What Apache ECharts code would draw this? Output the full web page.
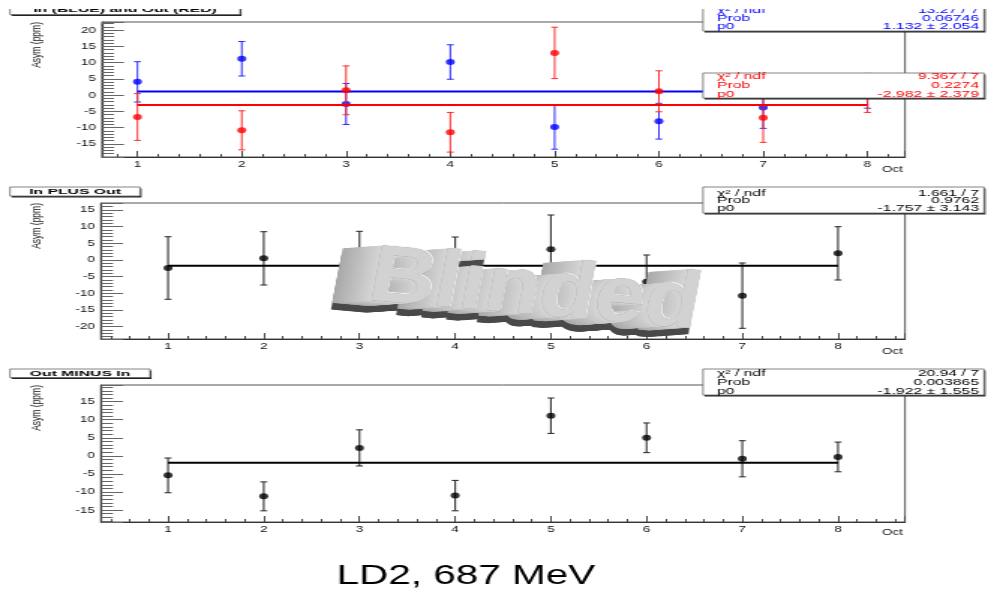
<!DOCTYPE html>
<html>
<head>
<meta charset="utf-8">
<title>LD2, 687 MeV</title>
<script src="https://cdn.jsdelivr.net/npm/echarts@6/dist/echarts.min.js"></script>
<style>
  html, body { margin: 0; padding: 0; background: #fff; overflow: hidden; }
  #wrap { width: 994px; height: 592px; overflow: hidden; position: relative; }
  /* the plot is laid out on a narrower canvas and widened horizontally */
  #chart { width: 663px; height: 592px; transform: scaleX(1.49925); transform-origin: 0 0; }
</style>
</head>
<body>
<div id="wrap"><div id="chart"></div></div>
<script>
// ---- data -------------------------------------------------------------
const days = [1, 2, 3, 4, 5, 6, 7, 8];

// In (blue) and Out (red) asymmetries, ppm
const inVals  = [4.1, 11.2, -2.7, 10.2, -9.8, -8.0, -3.8, 1.3];
const inErrs  = [6.2, 5.3, 6.3, 5.3, 6.8, 5.5, 6.4, 5.3];
const outVals = [-6.7, -10.8, 1.5, -11.4, 13.0, 1.2, -6.9, 0.7];
const outErrs = [7.2, 6.0, 7.5, 6.1, 7.9, 6.3, 7.6, 6.0];

// In PLUS Out
const sumVals = [-2.4, 0.5, -1.2, -1.2, 3.2, -6.5, -10.7, 2.0];
const sumErrs = [9.4, 8.0, 9.8, 8.1, 10.3, 8.0, 9.8, 8.0];

// Out MINUS In
const diffVals = [-5.4, -11.2, 2.2, -11.0, 11.1, 5.0, -0.8, -0.3];
const diffErrs = [4.8, 4.0, 5.0, 4.2, 4.9, 4.1, 5.0, 4.1];

// constant (pol0) fits: In, Out, In PLUS Out, Out MINUS In
const fitChi2  = ['13.27 / 7', '9.367 / 7', '1.661 / 7', '20.94 / 7'];
const fitProb  = ['0.06746', '0.2274', '0.9762', '0.003865'];
const fitP0    = [1.132, -2.982, -1.757, -1.922];
const fitP0Err = [2.054, 2.379, 3.143, 1.555];
const fitRange = [1, 8];

const panelTitles = ['In (BLUE) and Out (RED)', 'In PLUS Out', 'Out MINUS In'];
const yTitle = 'Asym (ppm)';
const xTitle = 'Oct';
const caption = 'LD2, 687 MeV';
const blindWord = 'Blinded';

// ---- layout -----------------------------------------------------------
const SX = 994 / 663;            // horizontal widening of the drawing
const X = v => v / SX;           // page x -> drawing x
const FONT = '"Liberation Sans", Arial, Helvetica, sans-serif';

const BLUE = '#0000ff', RED = '#ff0000', BLACK = '#000000';

// frames on the page: [left, top, right, bottom]
const frames  = [[102, 22, 905, 157], [101, 203, 905, 339], [101, 385, 905, 522]];
const xRanges = [[0.66, 8.36], [0.3, 8.7], [0.3, 8.7]];
const yRanges = [[-19, 22.5], [-23.7, 17.1], [-18.3, 19.6]];

const grids = frames.map(f => ({
  left: X(f[0]), top: f[1], width: X(f[2] - f[0]), height: f[3] - f[1],
  show: true, borderColor: '#555', borderWidth: 1, backgroundColor: 'transparent'
}));

const xAxes = xRanges.map((r, i) => ({
  type: 'value', gridIndex: i, min: r[0], max: r[1], splitNumber: 8,
  axisLine: { show: true, onZero: false, lineStyle: { color: '#333', width: 1.2 } },
  axisTick: { show: true, inside: true, length: 6, lineStyle: { color: '#444', width: 1 } },
  minorTick: { show: true, splitNumber: 5, length: 3, lineStyle: { color: '#444', width: 1 } },
  splitLine: { show: false },
  axisLabel: {
    margin: 3, fontSize: 9, fontFamily: FONT, color: '#111',
    formatter: v => (Math.abs(v - Math.round(v)) < 1e-9 ? String(Math.round(v)) : '')
  }
}));

const yAxes = yRanges.map((r, i) => ({
  type: 'value', gridIndex: i, min: r[0], max: r[1], splitNumber: 8,
  axisLine: { show: true, onZero: false, lineStyle: { color: '#333', width: 1.2 } },
  axisTick: { show: true, inside: true, length: X(22), lineStyle: { color: '#666', width: 1 } },
  minorTick: { show: true, splitNumber: 5, length: X(12), lineStyle: { color: '#666', width: 1 } },
  splitLine: { show: false },
  axisLabel: {
    margin: 4, fontSize: 9, fontFamily: FONT, color: '#111',
    formatter: v => (Math.abs(v % 5) < 1e-9 ? String(v) : '')
  }
}));

// ---- series builders --------------------------------------------------
function errorBars(gi, vals, errs, color, width, z) {
  return {
    type: 'custom', xAxisIndex: gi, yAxisIndex: gi, z, silent: true, clip: true,
    data: days.map((d, i) => [d, vals[i], errs[i]]),
    encode: { x: 0, y: 1 },
    renderItem: (params, api) => {
      const x = api.value(0), y = api.value(1), e = api.value(2);
      const hi = api.coord([x, y + e]);
      const lo = api.coord([x, y - e]);
      const c = 2.3;
      const style = { stroke: color, lineWidth: width, fill: null };
      return {
        type: 'group',
        children: [
          { type: 'line', shape: { x1: hi[0], y1: hi[1], x2: lo[0], y2: lo[1] }, style },
          { type: 'line', shape: { x1: hi[0] - c, y1: hi[1], x2: hi[0] + c, y2: hi[1] }, style },
          { type: 'line', shape: { x1: lo[0] - c, y1: lo[1], x2: lo[0] + c, y2: lo[1] }, style }
        ]
      };
    }
  };
}

function markers(gi, vals, color, z) {
  return {
    type: 'scatter', xAxisIndex: gi, yAxisIndex: gi, z, silent: true,
    symbol: 'circle', symbolSize: 6, itemStyle: { color },
    data: days.map((d, i) => [d, vals[i]])
  };
}

function fitLine(gi, k, color, z) {
  return {
    type: 'line', xAxisIndex: gi, yAxisIndex: gi, z, silent: true,
    showSymbol: false, symbol: 'none',
    lineStyle: { color, width: 2 },
    data: fitRange.map(x => [x, fitP0[k]])
  };
}

const series = [
  errorBars(0, inVals, inErrs, '#2b2bff', 1, 3),
  markers(0, inVals, BLUE, 4),
  fitLine(0, 0, BLUE, 5),
  errorBars(0, outVals, outErrs, '#ff2b2b', 1, 6),
  markers(0, outVals, RED, 7),
  fitLine(0, 1, RED, 8),

  errorBars(1, sumVals, sumErrs, '#333', 1.1, 3),
  markers(1, sumVals, BLACK, 4),
  fitLine(1, 2, BLACK, 5),

  errorBars(2, diffVals, diffErrs, '#333', 1.1, 3),
  markers(2, diffVals, BLACK, 4),
  fitLine(2, 3, BLACK, 5)
];

// ---- boxes and labels ---------------------------------------------------
function txt(x, y, text, font, fill, align, vAlign, extra) {
  return Object.assign({
    type: 'text', x, y, silent: true,
    style: {
      text, font, fill,
      align, verticalAlign: vAlign,
      textAlign: align, textVerticalAlign: vAlign
    }
  }, extra || {});
}

function paveBox(x0, y0, x1, y1, z) {
  return [
    { type: 'rect', z, silent: true,
      shape: { x: X(x0) + 1, y: y0 + 1.5, width: X(x1 - x0), height: y1 - y0 },
      style: { fill: '#222' } },
    { type: 'rect', z, silent: true,
      shape: { x: X(x0), y: y0, width: X(x1 - x0), height: y1 - y0 },
      style: { fill: '#fff', stroke: '#666', lineWidth: 0.8 } }
  ];
}

// stats boxes: page coordinates [x0, y0, x1, y1] and row centres
const statBoxes = [
  { k: 0, color: BLUE,  box: [703, 2, 984, 31],    rows: [10.8, 18.9, 26.8] },
  { k: 1, color: RED,   box: [703, 73, 984, 98],   rows: [77, 85.8, 94.5] },
  { k: 2, color: BLACK, box: [703, 187, 984, 213], rows: [193.3, 200.8, 208.3] },
  { k: 3, color: BLACK, box: [703, 369, 984, 395], rows: [374, 382.9, 391.7] }
];

const titleBoxes = [
  { box: [10, 2, 240, 14.5],   cy: 9.8 },
  { box: [10, 187, 140, 196],  cy: 191.7 },
  { box: [10, 369, 150, 377.5], cy: 373.5 }
];

const graphics = [];

statBoxes.forEach(sb => {
  const [x0, y0, x1, y1] = sb.box;
  graphics.push(...paveBox(x0, y0, x1, y1, 60));
  const names = ['\u03c7\u00b2 / ndf', 'Prob', 'p0'];
  const values = [
    fitChi2[sb.k],
    fitProb[sb.k],
    fitP0[sb.k].toFixed(3) + ' \u00b1 ' + fitP0Err[sb.k].toFixed(3)
  ];
  const f = '10.5px ' + FONT;
  sb.rows.forEach((cy, r) => {
    graphics.push(txt(X(717), cy, names[r], f, sb.color, 'left', 'middle', { z: 61, scaleY: 0.78 }));
    graphics.push(txt(X(979), cy, values[r], f, sb.color, 'right', 'middle', { z: 61, scaleY: 0.78 }));
  });
});

titleBoxes.forEach((tb, i) => {
  const [x0, y0, x1, y1] = tb.box;
  graphics.push(...paveBox(x0, y0, x1, y1, 60));
  graphics.push(txt(X((x0 + x1) / 2), tb.cy, panelTitles[i], 'bold 10.5px ' + FONT,
    '#000', 'center', 'middle', { z: 61, scaleY: 0.75 }));
});

// y-axis titles, reading upwards and ending at the top of each frame
frames.forEach(f => {
  graphics.push(txt(X(37), f[1], yTitle, '8.5px ' + FONT, '#111', 'right', 'middle',
    { rotation: Math.PI / 2, z: 20 }));
});

// x-axis titles under the right end of each frame
[170, 352, 533].forEach(cy => {
  graphics.push(txt(X(903), cy, xTitle, '9px ' + FONT, '#111', 'right', 'middle', { z: 20 }));
});

// extruded "Blinded" stamp over the middle panel
(function () {
  const font = 'bold 84px ' + FONT;
  const depth = 30;
  const Z = 50;
  const children = [];
  for (let i = depth; i >= 0; i--) {
    children.push(txt(-1.2 * i, 0.22 * i + 7, blindWord, font, '#4a4a4a', 'center', 'middle', { z: Z }));
  }
  for (let i = depth; i >= 1; i--) {
    const t = i / depth;
    const g = Math.round(215 - 45 * t);
    children.push(txt(-1.2 * i, 0.22 * i, blindWord, font, `rgb(${g},${g},${g})`, 'center', 'middle', { z: Z }));
  }
  children.push(txt(1, -1, blindWord, font, '#f6f6f6', 'center', 'middle', { z: Z }));
  const front = txt(0, 0, blindWord, font, '#d2d2d2', 'center', 'middle', { z: Z });
  front.style.stroke = '#a0a0a0';
  front.style.lineWidth = 0.6;
  children.push(front);
  graphics.push({
    type: 'group', x: X(535), y: 292, scaleX: 0.72, scaleY: 0.95, rotation: -0.13,
    z: Z, silent: true, children
  });
})();

// caption
graphics.push(txt(X(466), 576.5, caption, '27px ' + FONT, '#000', 'center', 'middle', { z: 20 }));

// blank strip along the top edge
graphics.push({ type: 'rect', z: 100, silent: true,
  shape: { x: 0, y: 0, width: 663, height: 9 }, style: { fill: '#fff' } });

// ---- chart --------------------------------------------------------------
const chart = echarts.init(document.getElementById('chart'), null, { renderer: 'canvas' });
chart.setOption({
  animation: false,
  backgroundColor: '#fff',
  grid: grids,
  xAxis: xAxes,
  yAxis: yAxes,
  series,
  graphic: { elements: graphics }
});
</script>
</body>
</html>
